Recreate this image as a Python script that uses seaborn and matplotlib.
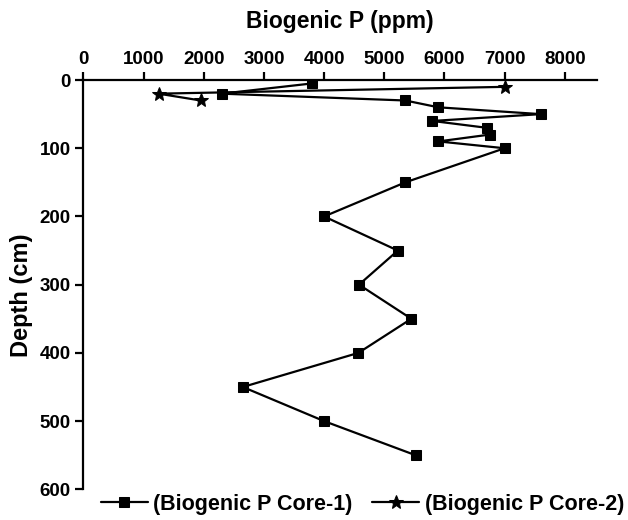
import seaborn as sns
import numpy as np
import pandas as pd
import matplotlib.pyplot as plt

# Core-1 profile (squares)
core1_p = [3800, 2300, 5350, 5900, 7600, 5800, 6700, 6750, 5900, 7000,
           5350, 4000, 5225, 4580, 5450, 4570, 2650, 4000, 5520]
core1_depth = [5, 20, 30, 40, 50, 60, 70, 80, 90, 100,
               150, 200, 250, 300, 350, 400, 450, 500, 550]

# Core-2 profile (stars)
core2_p = [7000, 1250, 1950]
core2_depth = [10, 20, 30]

x_ticks = [0, 1000, 2000, 3000, 4000, 5000, 6000, 7000, 8000]
y_ticks = [0, 100, 200, 300, 400, 500, 600]

sns.set_style("white", {"axes.edgecolor": "0", "text.color": "0",
                        "axes.labelcolor": "0", "xtick.color": "0",
                        "ytick.color": "0"})
plt.rcParams['font.family'] = ['Liberation Sans', 'DejaVu Sans']
plt.rcParams['font.weight'] = 'bold'

f = plt.figure(figsize=(6.28, 5.2), dpi=100)
ax = f.add_axes([0.1327, 0.059, 0.8175, 0.7871])

df1 = pd.DataFrame({"p": core1_p, "depth": core1_depth})
df2 = pd.DataFrame({"p": core2_p, "depth": core2_depth})

sns.lineplot(data=df1, x="p", y="depth", sort=False, estimator=None,
             color="black", lw=1.6, marker="s", markersize=7.5,
             markeredgecolor="black", label="(Biogenic P Core-1)", ax=ax)
sns.lineplot(data=df2, x="p", y="depth", sort=False, estimator=None,
             color="black", lw=1.6, marker="*", markersize=10,
             markeredgecolor="black", label="(Biogenic P Core-2)", ax=ax)

ax.set_xlim(0, 8530)
ax.set_ylim(600, 0)
ax.set_xticks(x_ticks)
ax.set_yticks(y_ticks)

ax.xaxis.tick_top()
ax.xaxis.set_label_position("top")
sns.despine(ax=ax, top=False, right=True, bottom=True, left=False)
for s in ["top", "left"]:
    ax.spines[s].set_linewidth(1.6)
ax.tick_params(axis="both", direction="out", length=6, width=1.6,
               labelsize=13.5, pad=3, colors="black")
ax.tick_params(axis="x", top=True, bottom=False)
ax.tick_params(axis="y", left=True, right=False)

ax.set_xlabel("Biogenic P (ppm)", fontsize=16.5, fontweight="bold",
              labelpad=16, color="black")
ax.set_ylabel("Depth (cm)", fontsize=17, fontweight="bold", color="black")
ax.yaxis.set_label_coords(-0.098, 0.475)

leg = ax.legend(loc="center", bbox_to_anchor=(0.577, 0.03),
                bbox_transform=f.transFigure, ncol=2, frameon=False,
                fontsize=15.5, handlelength=2.2, handletextpad=0.25,
                columnspacing=0.9)
for t in leg.get_texts():
    t.set_color("black")

plt.savefig("out.png", dpi=100)
